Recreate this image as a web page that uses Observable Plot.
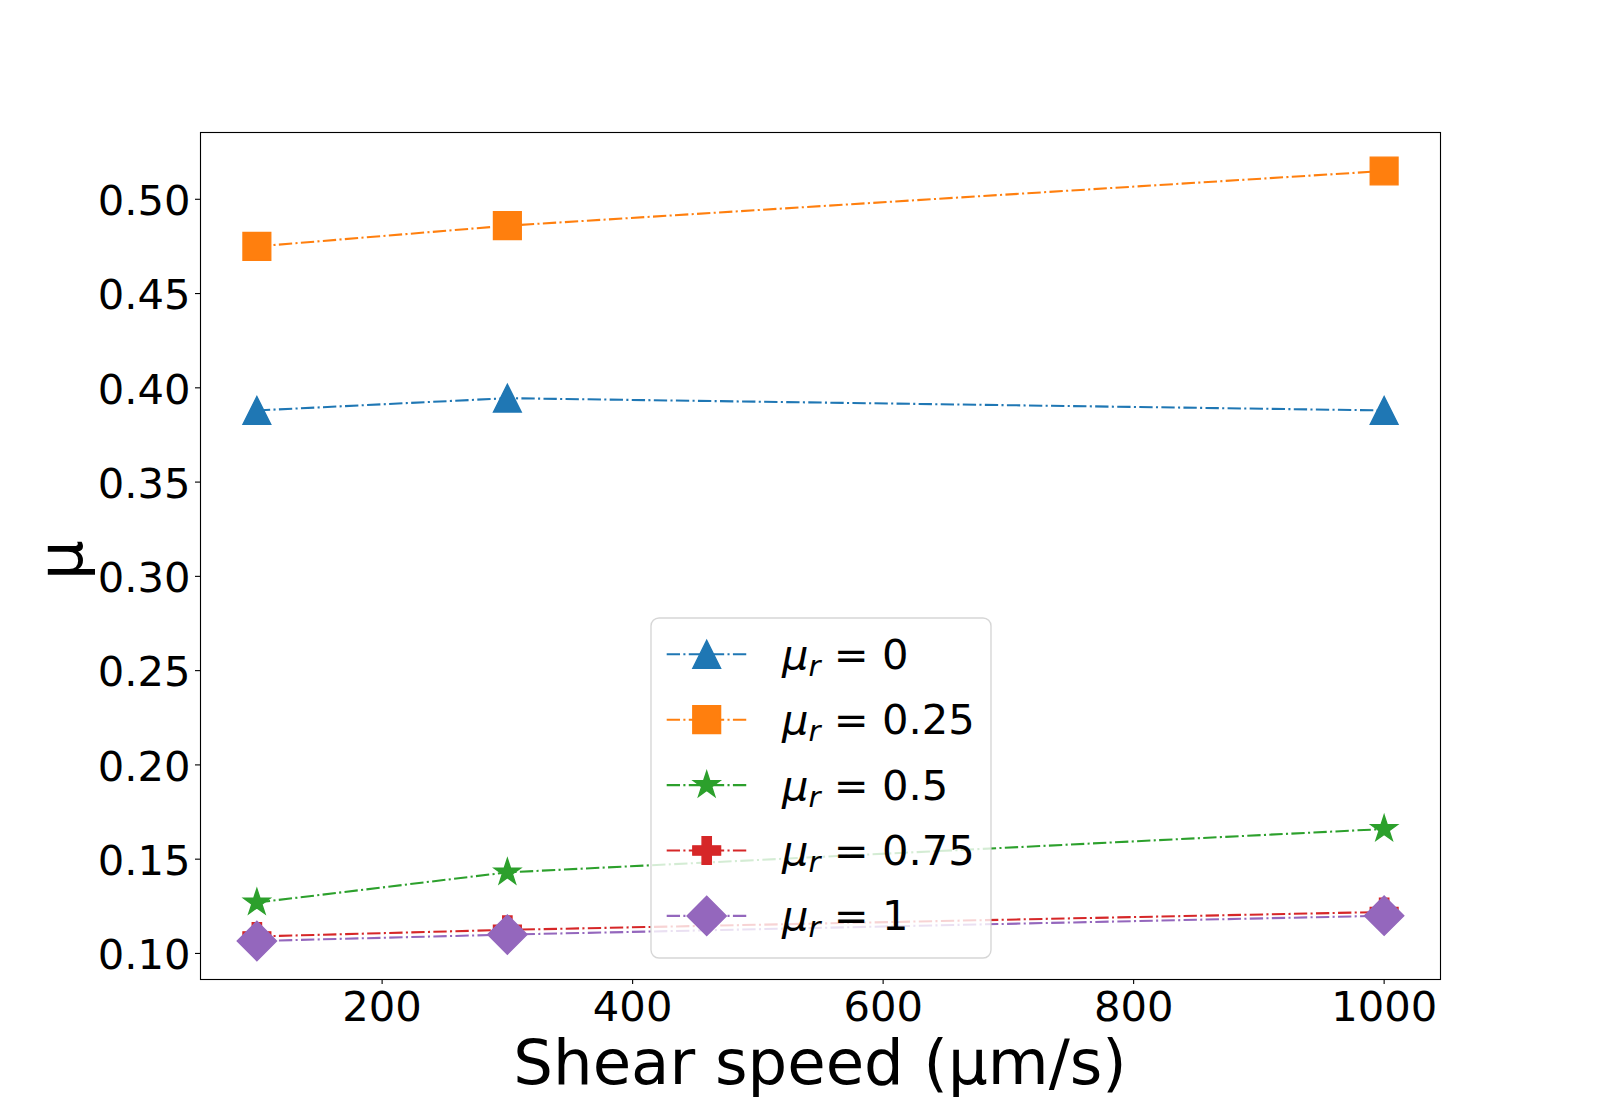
<!DOCTYPE html>
<html>
<head>
<meta charset="utf-8">
<script src="https://cdn.jsdelivr.net/npm/d3@7"></script>
<script src="https://cdn.jsdelivr.net/npm/@observablehq/plot@0.6"></script>
<style>
  html, body { margin: 0; padding: 0; background: #ffffff; }
  #chart { width: 1600px; height: 1100px; }
</style>
</head>
<body>
<div id="chart"></div>
<script>
// ---------- data ----------
const shearSpeed = [100, 300, 1000];
const muR0   = [0.388, 0.3945, 0.388];
const muR025 = [0.475, 0.486, 0.515];
const muR05  = [0.127, 0.143, 0.166];
const muR075 = [0.109, 0.1125, 0.122];
const muR1   = [0.1066, 0.110, 0.120];
const seriesNames  = ["0", "0.25", "0.5", "0.75", "1"];
const seriesValues = [muR0, muR025, muR05, muR075, muR1];
const seriesColors = ["#1f77b4", "#ff7f0e", "#2ca02c", "#d62728", "#9467bd"];
const xTicks = [200, 400, 600, 800, 1000];
const yTicks = [0.10, 0.15, 0.20, 0.25, 0.30, 0.35, 0.40, 0.45, 0.50];
const xLabel = "Shear speed (μm/s)";
const yLabel = "μ";

// ---------- matplotlib-like marker shapes ----------
const rOf = size => Math.sqrt(size / Math.PI);
const symTriangle = {draw(c, size) { const r = rOf(size); c.moveTo(0, -r); c.lineTo(r, r); c.lineTo(-r, r); c.closePath(); }};
const symSquare = {draw(c, size) { const r = rOf(size); c.moveTo(-r, -r); c.lineTo(r, -r); c.lineTo(r, r); c.lineTo(-r, r); c.closePath(); }};
const symStar = {draw(c, size) {
  const r = rOf(size);
  for (let i = 0; i < 10; i++) {
    const a = -Math.PI / 2 + i * Math.PI / 5;
    const rr = i % 2 ? r * 0.381966 : r;
    const x = rr * Math.cos(a), y = rr * Math.sin(a);
    if (i) c.lineTo(x, y); else c.moveTo(x, y);
  }
  c.closePath();
}};
const symPlus = {draw(c, size) {
  const r = rOf(size), a = r / 3;
  const pts = [[-a,-r],[a,-r],[a,-a],[r,-a],[r,a],[a,a],[a,r],[-a,r],[-a,a],[-r,a],[-r,-a],[-a,-a]];
  pts.forEach((p, i) => i ? c.lineTo(p[0], p[1]) : c.moveTo(p[0], p[1]));
  c.closePath();
}};
const symDiamond = {draw(c, size) { const d = rOf(size) * Math.SQRT2; c.moveTo(0, -d); c.lineTo(d, 0); c.lineTo(0, d); c.lineTo(-d, 0); c.closePath(); }};
const seriesSymbols = [symTriangle, symSquare, symStar, symPlus, symDiamond];

// ---------- table ----------
const rows = [];
seriesValues.forEach((vals, s) => vals.forEach((v, i) => rows.push({speed: shearSpeed[i], mu: v, series: s})));

const allMu = rows.map(d => d.mu);
const yMin = d3.min(allMu), yMax = d3.max(allMu), yPad = 0.05 * (yMax - yMin);
const xMin = d3.min(shearSpeed), xMax = d3.max(shearSpeed), xPad = 0.05 * (xMax - xMin);

const MS = 13.89;            // half marker size (px)
const LW = 2.08;             // line width (px)
const DASH = "13.33,3.33,2.08,3.33";

const seriesMarks = seriesValues.flatMap((vals, s) => {
  const data = rows.filter(d => d.series === s);
  return [
    Plot.line(data, {x: "speed", y: "mu", stroke: seriesColors[s], strokeWidth: LW, strokeDasharray: DASH, strokeLinecap: "butt"}),
    Plot.dot(data, {x: "speed", y: "mu", symbol: seriesSymbols[s], r: MS, fill: seriesColors[s], stroke: seriesColors[s], strokeWidth: 1.39})
  ];
});

const plot = Plot.plot({
  width: 1600,
  height: 1100,
  marginLeft: 200,
  marginRight: 160,
  marginTop: 132,
  marginBottom: 121,
  style: {fontFamily: "DejaVu Sans", fontSize: "41.67px", background: "#ffffff", color: "#000000"},
  x: {domain: [xMin - xPad, xMax + xPad]},
  y: {domain: [yMin - yPad, yMax + yPad]},
  marks: [
    ...seriesMarks,
    Plot.frame({stroke: "#000000", strokeWidth: 1.11}),
    Plot.axisX({ticks: xTicks, tickSize: 5, tickPadding: 7, fontSize: 41.67, label: null, tickFormat: d3.format("d"), strokeWidth: 1.11}),
    Plot.axisY({ticks: yTicks, tickSize: 5, tickPadding: 5, fontSize: 41.67, label: null, tickFormat: d3.format(".2f"), strokeWidth: 1.11})
  ]
});

document.getElementById("chart").appendChild(plot);

const svg = d3.select(plot);

// nudge y tick labels down slightly (matplotlib center_baseline alignment)
svg.selectAll('g[aria-label="y-axis tick label"]').each(function () {
  const g = d3.select(this);
  const tr = g.attr("transform") || "";
  g.attr("transform", (tr + " translate(0,2.5)").trim());
});

// ---------- axis titles ----------
svg.append("text")
  .attr("x", 820).attr("y", 1084.4)
  .attr("text-anchor", "middle")
  .attr("font-family", "DejaVu Sans").attr("font-size", 62.5).attr("fill", "#000")
  .text(xLabel);
svg.append("text")
  .attr("transform", "translate(82,560) rotate(-90)")
  .attr("text-anchor", "middle")
  .attr("font-family", "DejaVu Sans").attr("font-size", 62.5).attr("fill", "#000")
  .text(yLabel);

// ---------- legend ----------
const lg = svg.append("g").attr("text-anchor", "start");
lg.append("rect")
  .attr("x", 651).attr("y", 618).attr("width", 340).attr("height", 340).attr("rx", 8)
  .attr("fill", "#ffffff").attr("fill-opacity", 0.8)
  .attr("stroke", "#cccccc").attr("stroke-opacity", 0.8).attr("stroke-width", 1.39);
seriesNames.forEach((name, i) => {
  const cy = 654.3 + i * 65.4;
  lg.append("line")
    .attr("x1", 666.7).attr("x2", 746.7).attr("y1", cy).attr("y2", cy)
    .attr("stroke", seriesColors[i]).attr("stroke-width", LW).attr("stroke-dasharray", DASH);
  lg.append("path")
    .attr("transform", `translate(706.7,${cy})`)
    .attr("d", d3.symbol(seriesSymbols[i], Math.PI * MS * MS)())
    .attr("fill", seriesColors[i]).attr("stroke", seriesColors[i]).attr("stroke-width", 1.39);
  const t = lg.append("text")
    .attr("x", 782).attr("y", cy + 14.5)
    .attr("text-anchor", "start")
    .attr("font-family", "DejaVu Sans").attr("font-size", 41.67).attr("fill", "#000");
  t.append("tspan").attr("font-style", "italic").text("μ");
  t.append("tspan").attr("font-style", "italic").attr("font-size", 29.2).attr("dy", 7).text("r");
  t.append("tspan").attr("dy", -7).text(" = " + name);
});
</script>
</body>
</html>
